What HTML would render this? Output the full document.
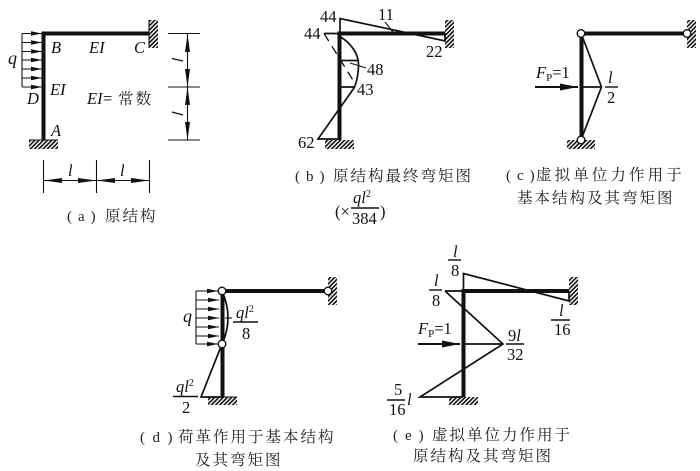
<!DOCTYPE html>
<html><head><meta charset="utf-8">
<style>
html,body{margin:0;padding:0;background:#fff}
svg{display:block}
text{font-family:"Liberation Serif","Noto Serif CJK SC",serif;font-size:16.5px;fill:#111}
.i{font-style:italic}
.c{font-size:15.5px;letter-spacing:2px;fill:#222}
.p{font-size:15px;letter-spacing:6px;fill:#222}
.f{stroke:#111;stroke-width:4;fill:none}
.t{stroke:#111;stroke-width:1.7;fill:none}
.n{stroke:#111;stroke-width:1.1;fill:none}
.r{stroke:#111;stroke-width:1.4;fill:none}
.o{fill:#fff;stroke:#111;stroke-width:1.4}
</style></head><body>
<svg width="700" height="471" viewBox="0 0 700 471" xmlns="http://www.w3.org/2000/svg">
<defs>
<pattern id="h" width="3" height="3" patternUnits="userSpaceOnUse" patternTransform="rotate(45)"><rect width="3" height="3" fill="#fff"/><rect width="1.6" height="3" fill="#111"/></pattern>
<marker id="a" markerWidth="12" markerHeight="6" refX="11" refY="3" orient="auto" markerUnits="userSpaceOnUse"><path d="M0 0.8L11 3L0 5.2Z" fill="#111"/></marker>
<marker id="b" markerWidth="19" markerHeight="8" refX="18" refY="4" orient="auto" markerUnits="userSpaceOnUse"><path d="M0 0.5L18 4L0 7.5Z" fill="#111"/></marker>
</defs>

<!-- a -->
<path class="f" d="M43.500 140V33.500H149"/>
<rect x="149" y="20" width="9" height="28" fill="url(#h)"/>
<rect x="29" y="140" width="29" height="9" fill="url(#h)"/><path class="n" d="M29 140H58M149 20V48"/>
<path class="n" d="M22 33.500V87"/>
<path class="n" d="M22 33.500H42" marker-end="url(#a)"/><path class="n" d="M22 42.500H42" marker-end="url(#a)"/><path class="n" d="M22 51.500H42" marker-end="url(#a)"/><path class="n" d="M22 60H42" marker-end="url(#a)"/><path class="n" d="M22 69H42" marker-end="url(#a)"/><path class="n" d="M22 78H42" marker-end="url(#a)"/><path class="n" d="M22 87H42" marker-end="url(#a)"/>
<path class="n" d="M168 33.500H200M168 87H200M168 140H200M187.500 33.500V140M43.500 160V193M96.500 160V193M149.500 160V193M43.500 180.500H149.500"/>
<path d="M187.500 34L185 52H190ZM187.500 87L185 69H190ZM187.500 87L185 105H190ZM187.500 140L185 122H190ZM44 180.500L62 178H62V183ZM96.500 180.500L78 178V183ZM96.500 180.500L115 178V183ZM149 180.500L131 178V183Z" fill="#111"/>
<text x="8" y="64" class="i" style="font-size:18px">q</text>
<text x="51" y="53" class="i">B</text><text x="89" y="53" class="i">EI</text><text x="134" y="53" class="i">C</text>
<text x="50" y="95" class="i">EI</text><text x="27" y="104" class="i">D</text><text x="51" y="136" class="i">A</text>
<text x="87" y="104" class="i">EI</text><text x="103" y="104">=</text>
<text x="118" y="104" class="c">常数</text>
<text x="68" y="176" class="i">l</text><text x="120" y="176" class="i">l</text>
<path class="r" d="M172 58.500L183 61M172 112L183 115"/>
<text x="67" y="221" class="p">(a)</text><text x="105" y="221" class="c">原结构</text>

<!-- b -->
<path class="f" d="M339.500 140V33.500H445"/>
<rect x="445" y="20" width="9" height="28" fill="url(#h)"/>
<rect x="325" y="140" width="29" height="9" fill="url(#h)"/>
<path class="t" d="M340 33V18.500L445 41V33M324 33.500H340M339 36C353 44 359 56 358.500 66C358 76 356 84 354 88L318 139H340"/>
<path class="t" d="M339 60.500H358M339 87H355"/>
<path d="M324 33.500L356 85" stroke="#111" stroke-width="1.300" stroke-dasharray="9 6" fill="none"/>
<path class="n" d="M385 22L393 32M350 63L366 68"/>
<text x="320" y="22">44</text><text x="304" y="39">44</text><text x="378" y="20">11</text>
<text x="426" y="57">22</text><text x="367" y="75">48</text><text x="357" y="95">43</text><text x="298" y="148">62</text>
<text x="295" y="181" class="p">(b)</text><text x="333" y="181" class="c">原结构最终弯矩图</text>
<text x="335" y="217">(×</text><text x="353" y="203" class="i">ql<tspan font-size="10" dy="-6" font-style="normal">2</tspan></text>
<path class="r" d="M351 208H379"/><text x="352" y="224">384</text><text x="380" y="217">)</text>

<!-- c -->
<path class="f" d="M581.500 140V33.500H687"/>
<rect x="687" y="20" width="9" height="28" fill="url(#h)"/>
<rect x="567" y="140" width="28" height="9" fill="url(#h)"/>
<path class="t" d="M581 33L601.500 87L581 140M581 87H601.500"/>
<path d="M535 87H578" stroke="#111" stroke-width="2" marker-end="url(#b)"/>
<circle class="o" cx="581" cy="33.500" r="3.800"/><circle class="o" cx="687" cy="33.500" r="3.800"/><circle class="o" cx="581" cy="140" r="3.800"/>
<text x="536" y="78" class="i">F<tspan font-size="11" dy="3" font-style="normal">P</tspan><tspan dy="-3" font-style="normal">=1</tspan></text>
<text x="608" y="83" class="i">l</text><path class="r" d="M605 87H618"/><text x="607" y="103">2</text>
<text x="506" y="180" class="p">(c)</text><text x="536" y="180" class="c" style="letter-spacing:3.100px">虚拟单位力作用于</text>
<text x="517" y="203" class="c">基本结构及其弯矩图</text>

<!-- d -->
<path class="f" d="M222.500 397V291H328"/>
<rect x="328" y="277" width="9" height="28" fill="url(#h)"/>
<rect x="208" y="397" width="29" height="8" fill="url(#h)"/>
<path class="n" d="M196 291V344M208 397H237"/>
<path class="n" d="M196 291H218" marker-end="url(#a)"/><path class="n" d="M196 300H219" marker-end="url(#a)"/><path class="n" d="M196 309H219" marker-end="url(#a)"/><path class="n" d="M196 318H219" marker-end="url(#a)"/><path class="n" d="M196 327H219" marker-end="url(#a)"/><path class="n" d="M196 336H219" marker-end="url(#a)"/><path class="n" d="M196 344H218" marker-end="url(#a)"/>
<path class="t" d="M222 291Q234 318 222 344L201 397H222"/>
<path class="n" d="M225 318H232"/>
<circle class="o" cx="222" cy="291" r="3.800"/><circle class="o" cx="328" cy="291" r="3.800"/><circle class="o" cx="222" cy="344" r="3.800"/>
<text x="183" y="322" class="i" style="font-size:18px">q</text>
<text x="236" y="318" class="i">ql<tspan font-size="10" dy="-6" font-style="normal">2</tspan></text><path class="r" d="M233 322H258"/><text x="242" y="339">8</text>
<text x="176" y="392" class="i">ql<tspan font-size="10" dy="-6" font-style="normal">2</tspan></text><path class="r" d="M173 396.500H198"/><text x="182" y="413">2</text>
<text x="140" y="442" class="p" style="letter-spacing:7.500px">(d)</text><text x="178" y="442" class="c">荷革作用于基本结构</text>
<text x="195" y="465" class="c">及其弯矩图</text>

<!-- e -->
<path class="f" d="M463.500 397V291H569"/>
<rect x="569" y="277" width="9" height="28" fill="url(#h)"/>
<rect x="449" y="397" width="29" height="8" fill="url(#h)"/>
<path class="t" d="M463.500 291V273.500L569 301V291M445 291H463M445 291L503 344L420 397H463M463 344H503"/>
<path d="M418 344H460" stroke="#111" stroke-width="2" marker-end="url(#b)"/>
<text x="453" y="257" class="i">l</text><path class="r" d="M448 260H461"/><text x="451" y="276">8</text>
<text x="434" y="286" class="i">l</text><path class="r" d="M429 290H442"/><text x="432" y="306">8</text>
<text x="559" y="316" class="i">l</text><path class="r" d="M551 320H570"/><text x="554" y="335">16</text>
<text x="418" y="334" class="i">F<tspan font-size="11" dy="3" font-style="normal">P</tspan><tspan dy="-3" font-style="normal">=1</tspan></text>
<text x="508" y="341">9<tspan class="i">l</tspan></text><path class="r" d="M506 344H524"/><text x="507" y="360">32</text>
<text x="394" y="395">5</text><path class="r" d="M387 400H405"/><text x="389" y="415">16</text><text x="407" y="405" class="i">l</text>
<text x="393" y="440" class="p" style="letter-spacing:7px">(e)</text><text x="432" y="440" class="c">虚拟单位力作用于</text>
<text x="413" y="461" class="c">原结构及其弯矩图</text>
</svg>
</body></html>
